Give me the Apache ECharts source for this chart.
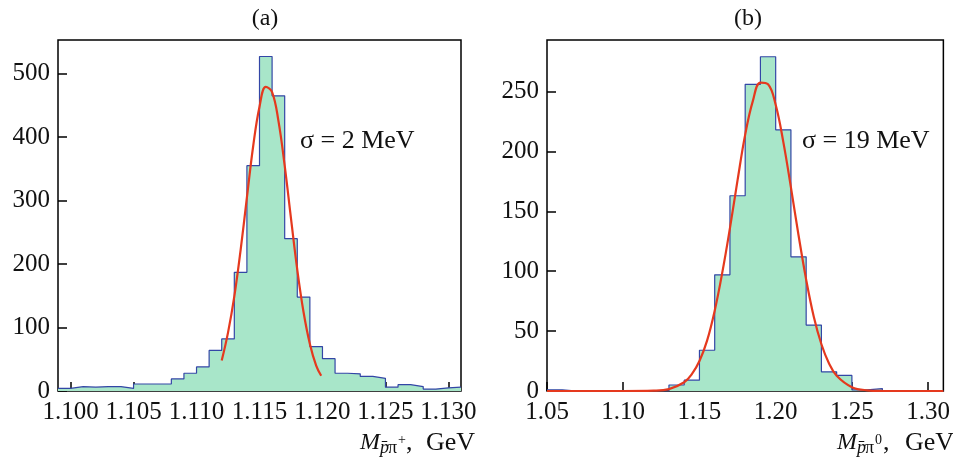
<!DOCTYPE html>
<html>
<head>
<meta charset="utf-8">
<script src="https://cdn.jsdelivr.net/npm/echarts@6/dist/echarts.min.js"></script>
<style>
html,body{margin:0;padding:0;background:#fff;}
#c{width:953px;height:462px;}
</style>
</head>
<body>
<div id="c"></div>
<script>
// ---- Panel (a): M(p̄π+) histogram, bin width 0.001 GeV ----
const binEdgesA = [1.099,1.100,1.101,1.102,1.103,1.104,1.105,1.106,1.107,1.108,1.109,1.110,1.111,1.112,1.113,1.114,1.115,1.116,1.117,1.118,1.119,1.120,1.121,1.122,1.123,1.124,1.125,1.126,1.127,1.128,1.129,1.130,1.131];
const countsA = [4,7,6,7,7,4,11,11,11,19,28,38,64,82,187,355,527,465,240,148,70,51,28,27,23,20,6,10,7,3,5,6];
const fitXA = [1.1120,1.1125,1.1130,1.1135,1.1140,1.1145,1.1150,1.1155,1.1160,1.1165,1.1170,1.1175,1.1180,1.1185,1.1190,1.1195,1.1199];
const fitYA = [48,92,149,222,305,386,448,479,471,426,355,272,191,124,74,40,24];
const xTicksA = [1.100,1.105,1.110,1.115,1.120,1.125,1.130];
const yTicksA = [0,100,200,300,400,500];

// ---- Panel (b): M(p̄π0) histogram, bin width 0.01 GeV ----
const binEdgesB = [1.05,1.06,1.07,1.08,1.09,1.10,1.11,1.12,1.13,1.14,1.15,1.16,1.17,1.18,1.19,1.20,1.21,1.22,1.23,1.24,1.25,1.26,1.27,1.28,1.29,1.30,1.31];
const countsB = [1,0,0,0,0,0,0,0,5,9,34,97,163,256,279,218,112,55,16,13,1,2,0,0,0,0];
const fitXB = [1.05,1.08,1.10,1.12,1.13,1.14,1.145,1.15,1.155,1.16,1.165,1.17,1.175,1.18,1.185,1.19,1.195,1.20,1.205,1.21,1.215,1.22,1.225,1.23,1.235,1.24,1.25,1.26,1.27,1.29,1.31];
const fitYB = [0,0,0,0.3,1.6,7.3,14,25,42,67,99,136,176,214,242,257.5,256,239,208,170,130,93,62,39,23,12.7,3.2,0.6,0.1,0,0];
const xTicksB = [1.05,1.10,1.15,1.20,1.25,1.30];
const yTicksB = [0,50,100,150,200,250];

function stepData(edges, counts){
  const d = [];
  for (let i = 0; i < counts.length; i++) d.push([edges[i], counts[i]]);
  d.push([edges[edges.length-1], counts[counts.length-1]]);
  return d;
}
function zip(xs, ys){ return xs.map((x,i)=>[x, ys[i]]); }

const FONT = '"Liberation Serif", "DejaVu Serif", serif';
const FILL = '#a8e6c9';
const EDGE = '#3346a6';
const RED = '#e5391e';

function xAxisCfg(gi, min, max, ticks, dec){
  return {
    type:'value', gridIndex:gi, min:min, max:max,
    axisLine:{show:false},
    splitLine:{show:false},
    axisTick:{show:true, inside:true, length:9, customValues:ticks, lineStyle:{color:'#000', width:1.5}},
    axisLabel:{show:true, customValues:ticks, margin:9, color:'#111', fontFamily:FONT, fontSize:25,
      formatter:(v)=>Number(v).toFixed(dec)}
  };
}
function yAxisCfg(gi, max, ticks){
  return {
    type:'value', gridIndex:gi, min:0, max:max,
    axisLine:{show:false},
    splitLine:{show:false},
    axisTick:{show:true, inside:true, length:9, customValues:ticks, lineStyle:{color:'#000', width:1.5}},
    axisLabel:{show:true, customValues:ticks, margin:8, color:'#111', fontFamily:FONT, fontSize:25}
  };
}

function axisName(xStart, xEnd, supText){
  const c = '#111';
  return [
    {type:'text', x:xStart, y:443, style:{text:'M', font:'italic 24px '+FONT, fill:c, align:'left', verticalAlign:'middle'}},
    {type:'text', x:xStart+20, y:448, style:{text:'p\u0304', font:'italic 18px '+FONT, fill:c, align:'left', verticalAlign:'middle'}},
    {type:'text', x:xStart+28, y:448, style:{text:'\u03c0', font:'18px '+FONT, fill:c, align:'left', verticalAlign:'middle'}},
    {type:'text', x:xStart+38, y:440, style:{text:supText, font:'14px '+FONT, fill:c, align:'left', verticalAlign:'middle'}},
    {type:'text', x:xStart+46, y:443, style:{text:',', font:'26px '+FONT, fill:c, align:'left', verticalAlign:'middle'}},
    {type:'text', x:xEnd, y:443, style:{text:'GeV', font:'26px '+FONT, fill:c, align:'right', verticalAlign:'middle'}}
  ];
}

const chart = echarts.init(document.getElementById('c'), null, {renderer:'canvas'});
chart.setOption({
  backgroundColor:'#fff',
  animation:false,
  grid:[
    {left:58, top:40, width:403, height:351, show:true, borderColor:'#000', borderWidth:1.5, backgroundColor:'transparent'},
    {left:547, top:40, width:402, height:351, show:true, borderColor:'#000', borderWidth:1.5, backgroundColor:'transparent'}
  ],
  xAxis:[ xAxisCfg(0, 1.099, 1.131, xTicksA, 3), xAxisCfg(1, 1.05, 1.31, xTicksB, 2) ],
  yAxis:[ yAxisCfg(0, 553, yTicksA), yAxisCfg(1, 293, yTicksB) ],
  series:[
    {type:'line', xAxisIndex:0, yAxisIndex:0, step:'end', symbol:'none', data:stepData(binEdgesA, countsA),
      lineStyle:{color:EDGE, width:1.2}, areaStyle:{color:FILL, opacity:1}, z:2},
    {type:'line', xAxisIndex:0, yAxisIndex:0, smooth:0.4, symbol:'none', data:zip(fitXA, fitYA),
      lineStyle:{color:RED, width:2.2}, z:3},
    {type:'line', xAxisIndex:1, yAxisIndex:1, step:'end', symbol:'none', data:stepData(binEdgesB, countsB),
      lineStyle:{color:EDGE, width:1.2}, areaStyle:{color:FILL, opacity:1}, z:2},
    {type:'line', xAxisIndex:1, yAxisIndex:1, smooth:0.4, symbol:'none', data:zip(fitXB, fitYB),
      lineStyle:{color:RED, width:2.2}, z:3}
  ],
  graphic:[
    {type:'text', x:265, y:19, style:{text:'(a)', font:'24px '+FONT, fill:'#111', align:'center', verticalAlign:'middle'}},
    {type:'text', x:748, y:19, style:{text:'(b)', font:'24px '+FONT, fill:'#111', align:'center', verticalAlign:'middle'}},
    {type:'text', x:300, y:141, style:{text:'\u03c3 = 2 MeV', font:'26px '+FONT, fill:'#111', align:'left', verticalAlign:'middle'}},
    {type:'text', x:802, y:141, style:{text:'\u03c3 = 19 MeV', font:'26px '+FONT, fill:'#111', align:'left', verticalAlign:'middle'}}
  ].concat(axisName(360, 475, '+')).concat(axisName(837, 954, '0'))
});
</script>
</body>
</html>
